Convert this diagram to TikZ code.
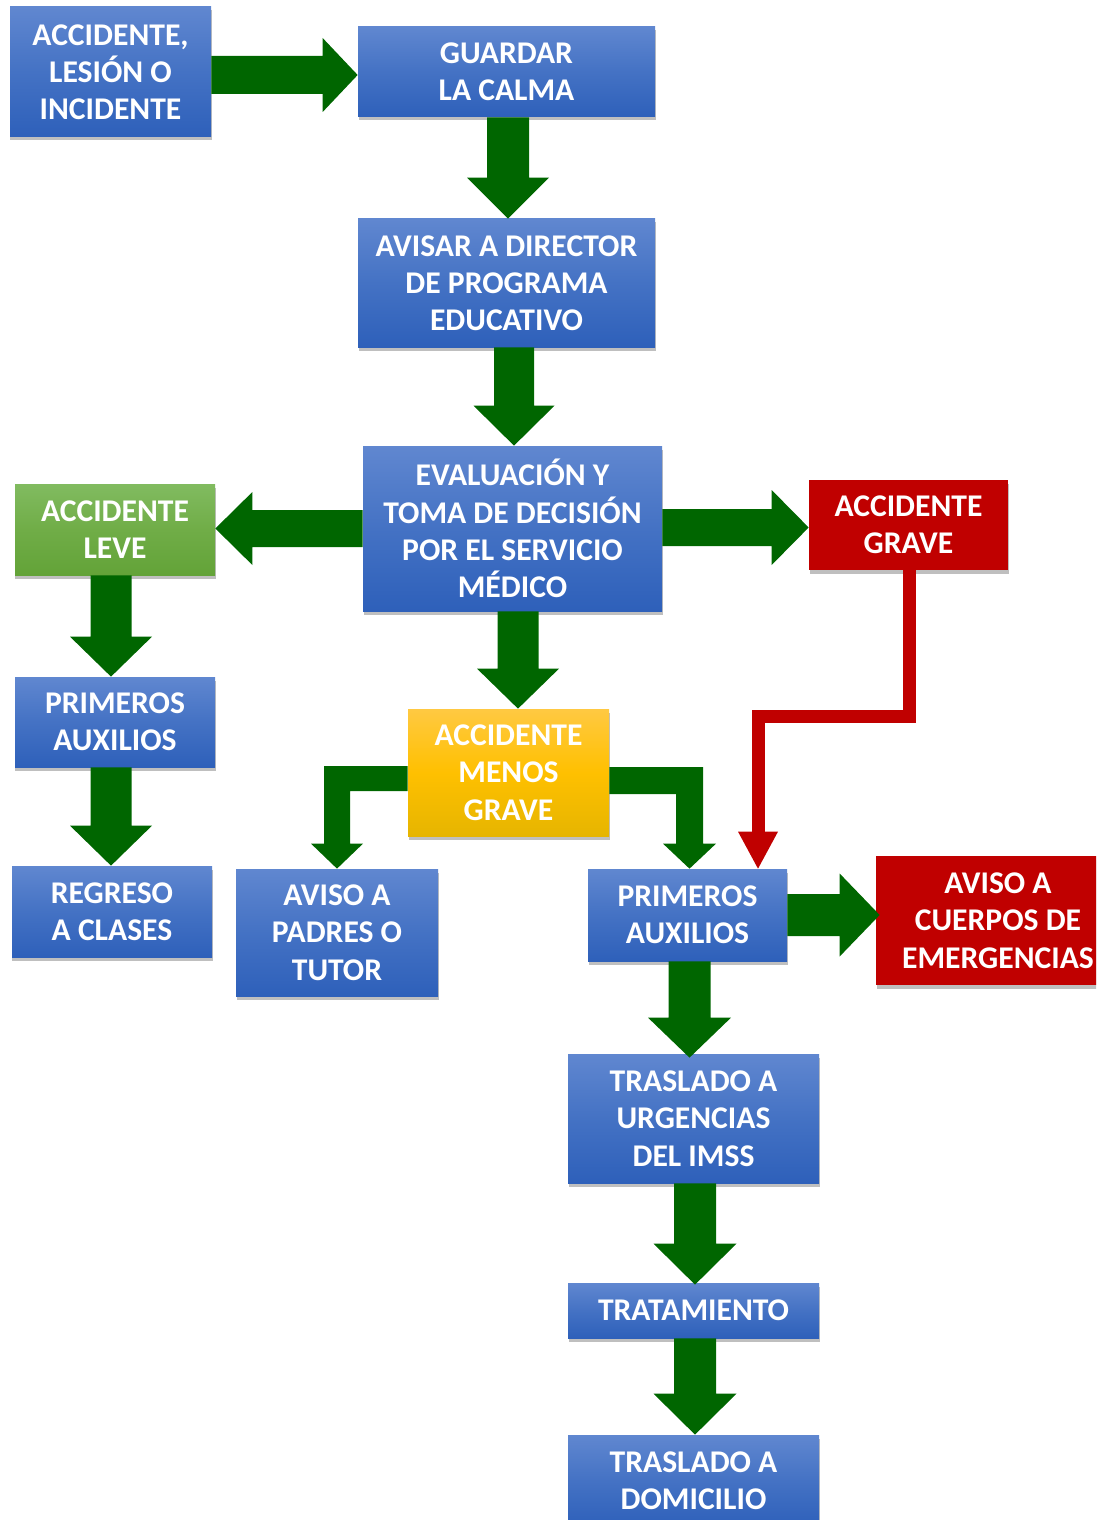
\documentclass[tikz,border=0pt]{standalone}
\usepackage{fontspec}
\setmainfont{Carlito}
\usetikzlibrary{calc,shadows}
\definecolor{agreen}{RGB}{0,102,0}
\definecolor{bluetop}{RGB}{96,135,208}
\definecolor{bluemid}{RGB}{68,114,196}
\definecolor{bluebot}{RGB}{46,96,186}
\definecolor{greentop}{RGB}{129,187,96}
\definecolor{greenmid}{RGB}{112,173,71}
\definecolor{greenbot}{RGB}{99,163,56}
\definecolor{yeltop}{RGB}{255,201,66}
\definecolor{yelmid}{RGB}{255,192,0}
\definecolor{yelbot}{RGB}{230,181,0}
\definecolor{redbox}{RGB}{192,0,0}
% down block arrow: #1 source node, #2 tip coordinate, #3 shaft half width, #4 head half width, #5 head length
\newcommand\darr[5]{\fill[agreen] ($(#1.south -| #2)+(-#3,0)$) -- ($(#1.south -| #2)+(#3,0)$) -- ($(#2)+(#3,-#5)$) -- ($(#2)+(#4,-#5)$) -- (#2) -- ($(#2)+(-#4,-#5)$) -- ($(#2)+(-#3,-#5)$) -- cycle;}
\newcommand\rarr[5]{\fill[agreen] ($(#1.east |- #2)+(0,-#3)$) -- ($(#2)+(-#5,-#3)$) -- ($(#2)+(-#5,-#4)$) -- (#2) -- ($(#2)+(-#5,#4)$) -- ($(#2)+(-#5,#3)$) -- ($(#1.east |- #2)+(0,#3)$) -- cycle;}
\newcommand\larr[5]{\fill[agreen] ($(#1.west |- #2)+(0,-#3)$) -- ($(#2)+(#5,-#3)$) -- ($(#2)+(#5,-#4)$) -- (#2) -- ($(#2)+(#5,#4)$) -- ($(#2)+(#5,#3)$) -- ($(#1.west |- #2)+(0,#3)$) -- cycle;}
\begin{document}
\begin{tikzpicture}[x=0.02cm,y=-0.02cm,
  box/.style={inner sep=0pt, align=center, text=white,
    font=\fontsize{18}{21.2}\selectfont\bfseries,
    drop shadow={shadow xshift=0.01cm, shadow yshift=-0.07cm, opacity=0.25, fill=black}},
  sz/.style 2 args={minimum width=#1*0.02cm, minimum height=#2*0.02cm},
  bluebox/.style={box, top color=bluetop, bottom color=bluebot, middle color=bluemid},
  greenbox/.style={box, top color=greentop, bottom color=greenbot, middle color=greenmid},
  yellowbox/.style={box, top color=yeltop, bottom color=yelbot, middle color=yelmid},
  redboxst/.style={box, fill=redbox},
]
\useasboundingbox (0,0) rectangle (1096,1520);
\clip (0,0) rectangle (1096,1520);

\node[bluebox, sz={201}{130}] (acc) at (110.5,72) {ACCIDENTE,\\LESIÓN O\\INCIDENTE};
\node[bluebox, sz={297}{90}] (calma) at (506.5,72) {GUARDAR\\LA CALMA};
\node[bluebox, sz={297}{128}] (director) at (506.5,283) {AVISAR A DIRECTOR\\DE PROGRAMA\\EDUCATIVO};
\node[bluebox, sz={299}{165}] (eval) at (512.5,528.5) {EVALUACIÓN Y\\TOMA DE DECISIÓN\\POR EL SERVICIO\\MÉDICO};
\node[greenbox, sz={200}{91}] (leve) at (115,529.5) {ACCIDENTE\\LEVE};
\node[redboxst, sz={199}{90}] (grave) at (908.5,525) {ACCIDENTE\\GRAVE};
\node[bluebox, sz={200}{90}] (pa1) at (115,722) {PRIMEROS\\AUXILIOS};
\node[bluebox, sz={200}{91}] (regreso) at (112,911.5) {REGRESO\\A CLASES};
\node[yellowbox, sz={201}{127}] (mg) at (508.5,772.5) {ACCIDENTE\\MENOS\\GRAVE};
\node[bluebox, sz={202}{127}] (padres) at (337,932.5) {AVISO A\\PADRES O\\TUTOR};
\node[bluebox, sz={199}{92}] (pa2) at (687.5,915) {PRIMEROS\\AUXILIOS};
\node[redboxst, sz={244}{129}] (emerg) at (998,920.5) {AVISO A\\CUERPOS DE\\EMERGENCIAS};
\node[bluebox, sz={251}{129}] (imss) at (693.5,1118.5) {TRASLADO A\\URGENCIAS\\DEL IMSS};
\node[bluebox, sz={251}{55}] (trat) at (693.5,1310.5) {TRATAMIENTO};
\node[bluebox, sz={251}{92}] (domicilio) at (693.5,1481) {TRASLADO A\\DOMICILIO};

% tip coordinates
\coordinate (t1) at ($(calma.west)+(0,3)$);
\coordinate (t2) at ($(director.north)+(1.5,0)$);
\coordinate (t3) at ($(eval.north)+(1.5,0)$);
\coordinate (t4) at ($(leve.east)+(0,-1)$);
\coordinate (t5) at ($(grave.west)+(0,2.5)$);
\coordinate (t6) at ($(mg.north)+(9.5,0)$);
\coordinate (t7) at ($(pa1.north)+(-4,0)$);
\coordinate (t8) at ($(regreso.north)+(-1,0)$);
\coordinate (t11) at ($(emerg.west)+(4,-5.5)$);
\coordinate (t12) at ($(imss.north)+(-4,4)$);
\coordinate (t13) at ($(trat.north)+(1.5,2)$);
\coordinate (t14) at ($(domicilio.north)+(1.5,0)$);

\rarr{acc}{t1}{19}{37}{35}
\darr{calma}{t2}{21}{41}{41}
\darr{director}{t3}{20}{40.5}{40}
\larr{eval}{t4}{18.5}{36.5}{37}
\rarr{eval}{t5}{18.5}{37.5}{37}
\darr{eval}{t6}{20.5}{41}{40}
\darr{leve}{t7}{20.5}{41}{40}
\darr{pa1}{t8}{20.5}{41}{40}
\rarr{pa2}{t11}{21}{41.5}{40}
\darr{pa2}{t12}{21}{41.5}{40}
\darr{imss}{t13}{21}{41.5}{41}
\darr{trat}{t14}{21}{41.5}{41}

% elbow arrows from ACCIDENTE MENOS GRAVE
\coordinate (h9) at ($(mg.west)+(0,6)$);
\coordinate (t9) at (padres.north);
\fill[agreen] ($(h9)+(0,-12.5)$) -- ($(h9 -| t9)+(-13,-12.5)$) -- ($(t9)+(-13,-25)$) -- ($(t9)+(-26,-25)$) -- (t9) -- ($(t9)+(26,-25)$) -- ($(t9)+(13,-25)$) -- ($(h9 -| t9)+(13,12.5)$) -- ($(h9)+(0,12.5)$) -- cycle;
\coordinate (h10) at ($(mg.east)+(0,8)$);
\coordinate (t10) at ($(pa2.north)+(2,0)$);
\fill[agreen] ($(h10)+(0,-13.5)$) -- ($(h10 -| t10)+(13.5,-13.5)$) -- ($(t10)+(13.5,-25)$) -- ($(t10)+(26.5,-25)$) -- (t10) -- ($(t10)+(-26.5,-25)$) -- ($(t10)+(-13.5,-25)$) -- ($(h10 -| t10)+(-13.5,13.5)$) -- ($(h10)+(0,13.5)$) -- cycle;

% red connector from ACCIDENTE GRAVE to PRIMEROS AUXILIOS
\coordinate (r) at ($(pa2.north)+(70.5,0)$);
\draw[redbox, line width=0.26cm, line join=miter] ($(grave.south)+(1,0)$) -- ++(0,146.5) -| ($(r)+(0,-36)$);
\fill[redbox] ($(r)+(-20,-37)$) -- (r) -- ($(r)+(20,-37)$) -- cycle;
\end{tikzpicture}
\end{document}
